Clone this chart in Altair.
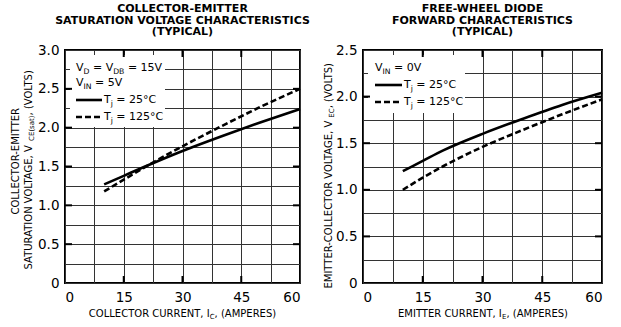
import altair as alt
import pandas as pd

# ---------------- data ----------------
current = [10, 15, 20, 30, 40, 50, 60]
vce_25 = [1.27, 1.38, 1.49, 1.70, 1.89, 2.07, 2.24]
vce_125 = [1.18, 1.33, 1.48, 1.76, 2.02, 2.27, 2.50]
vec_25 = [1.20, 1.31, 1.42, 1.60, 1.76, 1.91, 2.04]
vec_125 = [1.00, 1.13, 1.25, 1.46, 1.64, 1.81, 1.97]

x_major = [15, 30, 45]
x_grid = [0, 7.5, 15, 22.5, 30, 37.5, 45, 52.5, 60]
y_major_left = [0.5, 1.0, 1.5, 2.0, 2.5]
y_grid_left = [0, 0.25, 0.5, 0.75, 1.0, 1.25, 1.5, 1.75, 2.0, 2.25, 2.5, 2.75, 3.0]
y_major_right = [0.5, 1.0, 1.5, 2.0]
y_grid_right = [0, 0.25, 0.5, 0.75, 1.0, 1.25, 1.5, 1.75, 2.0, 2.25, 2.5]

title_left = ["COLLECTOR-EMITTER", "SATURATION VOLTAGE CHARACTERISTICS", "(TYPICAL)"]
title_right = ["FREE-WHEEL DIODE", "FORWARD CHARACTERISTICS", "(TYPICAL)"]

FONT = "DejaVu Sans"
GRID = "#333333"
XMAX = 60
TL = 7

# DejaVu Sans advance widths (units per 2048)
W = {' ': 651, 'A': 1401, 'B': 1405, 'C': 1430, 'D': 1577, 'E': 1294, 'F': 1178,
     'G': 1587, 'H': 1540, 'I': 604, 'L': 1141, 'M': 1767, 'N': 1532, 'O': 1612,
     'P': 1235, 'R': 1423, 'S': 1300, 'T': 1251, 'U': 1499, 'V': 1401, 'W': 2025,
     'a': 1255, 'j': 569, 's': 1067, 't': 803, '(': 799, ')': 799, ',': 651,
     '-': 739, '.': 651, '=': 1716, '°': 1024}
for d in "0123456789":
    W[d] = 1303


def tw(s, size):
    return sum(W.get(c, 1200) for c in s) / 2048.0 * size


def pieces(segs, x0, y0, size, angle=0, center=True, sub=0.7):
    rows = []
    widths = [tw(t, size * (sub if s else 1)) for t, s in segs]
    u = -sum(widths) / 2 if center else 0.0
    for (t, s), w in zip(segs, widths):
        sz = round(size * (sub if s else 1), 2)
        d = 0.32 * size if s else 0.0
        stripped = t.lstrip(" ")
        lead = tw(t[:len(t) - len(stripped)], sz)
        uu = u + lead
        if angle == 0:
            px, py = x0 + uu, y0 + d
        else:  # 270
            px, py = x0 + d, y0 - uu
        rows.append({"px": px, "py": py, "text": stripped, "size": sz, "angle": angle})
        u += w
    return rows


def text_layers(rows):
    df = pd.DataFrame(rows)
    layers = []
    for (sz, ang), g in df.groupby(["size", "angle"]):
        layers.append(
            alt.Chart(g[["px", "py", "text"]].reset_index(drop=True)).mark_text(
                font=FONT, align="left", baseline="middle", color="black",
                fontSize=float(sz), angle=float(ang)).encode(
                x=alt.X("px:Q", scale=None, axis=None),
                y=alt.Y("py:Q", scale=None, axis=None),
                text="text:N"))
    return layers


def panel(width, height, ymax, ymajor, ygrid, s25, s125, title, text_rows, box, sample):
    xs = alt.Scale(domain=[0, XMAX], nice=False, zero=False)
    ys = alt.Scale(domain=[0, ymax], nice=False, zero=False)
    xaxis = alt.Axis(values=x_grid, grid=True, gridColor=GRID, gridWidth=1, gridOpacity=1,
                     ticks=False, domain=False, title=None, labelOverlap=False,
                     labelFont=FONT, labelFontSize=13.5, labelColor="black", labelPadding=7,
                     labelExpr="datum.value % 15 == 0 ? format(datum.value, 'd') : ''")
    yaxis = alt.Axis(values=ygrid, grid=True, gridColor=GRID, gridWidth=1, gridOpacity=1,
                     ticks=False, domain=False, title=None, labelOverlap=False,
                     labelFont=FONT, labelFontSize=13.5, labelColor="black", labelPadding=6,
                     labelExpr="datum.value == 0 ? '0' : ((datum.value * 2) % 1 == 0 ? "
                               "format(datum.value, '.1f') : '')")
    X = alt.X("x:Q", scale=xs, axis=xaxis)
    Y = alt.Y("y:Q", scale=ys, axis=yaxis)

    px2x = XMAX / width
    px2y = ymax / height

    bx = pd.DataFrame([{"x": box[0] * px2x, "x2": box[1] * px2x,
                        "y": ymax - box[2] * px2y, "y2": ymax - box[3] * px2y}])
    boxl = alt.Chart(bx).mark_rect(fill="white").encode(x=X, x2="x2:Q", y=Y, y2="y2:Q")

    xt = pd.DataFrame({"x": x_major})
    yt = pd.DataFrame({"y": ymajor})
    tb = alt.Chart(xt).mark_rule(color="black", strokeWidth=2).encode(
        x=X, y=alt.value(height - TL), y2=alt.value(height))
    tt = alt.Chart(xt).mark_rule(color="black", strokeWidth=2).encode(
        x=X, y=alt.value(0), y2=alt.value(TL))
    tl = alt.Chart(yt).mark_rule(color="black", strokeWidth=2).encode(
        y=Y, x=alt.value(0), x2=alt.value(TL))
    tr = alt.Chart(yt).mark_rule(color="black", strokeWidth=2).encode(
        y=Y, x=alt.value(width - TL), x2=alt.value(width))

    d25 = pd.DataFrame({"x": current, "y": s25})
    d125 = pd.DataFrame({"x": current, "y": s125})
    l25 = alt.Chart(d25).mark_line(color="black", strokeWidth=2.6,
                                   interpolate="monotone").encode(x=X, y=Y)
    l125 = alt.Chart(d125).mark_line(color="black", strokeWidth=2.6, strokeDash=[6, 3],
                                     interpolate="monotone").encode(x=X, y=Y)

    s1 = alt.Chart(pd.DataFrame({"a": [0]})).mark_rule(
        color="black", strokeWidth=2.6).encode(
        x=alt.value(sample[0]), x2=alt.value(sample[1]), y=alt.value(sample[2]))
    s2 = alt.Chart(pd.DataFrame({"a": [0]})).mark_rule(
        color="black", strokeWidth=2.6, strokeDash=[6, 3]).encode(
        x=alt.value(sample[0]), x2=alt.value(sample[1]), y=alt.value(sample[3]))

    layers = [l25, boxl, tb, tt, tl, tr, l125, s1, s2] + text_layers(text_rows)
    return alt.layer(*layers).properties(
        width=width, height=height,
        title=alt.TitleParams(text=title, font=FONT, fontSize=11, fontWeight="bold",
                              lineHeight=11.5, anchor="middle", offset=6, color="black"))


# ---------- left panel texts ----------
LS = 11
left_rows = []
left_rows += pieces([("COLLECTOR-EMITTER", 0)], -49, 111, 10, angle=270)
left_rows += pieces([("SATURATION VOLTAGE, V", 0), ("CE(sat)", 1), (", (VOLTS)", 0)],
                    -36, 119, 10, angle=270)
left_rows += pieces([("COLLECTOR CURRENT, I", 0), ("C", 1), (", (AMPERES)", 0)],
                    117.5, 264, 10)
left_rows += pieces([("V", 0), ("D", 1), (" = V", 0), ("DB", 1), (" = 15V", 0)],
                    11, 18, LS, center=False)
left_rows += pieces([("V", 0), ("IN", 1), (" = 5V", 0)], 11, 33, LS, center=False)
left_rows += pieces([("T", 0), ("j", 1), (" = 25°C", 0)], 39, 50, LS, center=False)
left_rows += pieces([("T", 0), ("j", 1), (" = 125°C", 0)], 39, 67, LS, center=False)

# ---------- right panel texts ----------
right_rows = []
right_rows += pieces([("EMITTER-COLLECTOR VOLTAGE, V", 0), ("EC", 1), (", (VOLTS)", 0)],
                     -34, 125, 10, angle=270)
right_rows += pieces([("EMITTER CURRENT, I", 0), ("E", 1), (", (AMPERES)", 0)],
                     120, 264, 10)
right_rows += pieces([("V", 0), ("IN", 1), (" = 0V", 0)], 12, 18, LS, center=False)
right_rows += pieces([("T", 0), ("j", 1), (" = 25°C", 0)], 41, 35, LS, center=False)
right_rows += pieces([("T", 0), ("j", 1), (" = 125°C", 0)], 41, 52, LS, center=False)

left = panel(235, 233, 3.0, y_major_left, y_grid_left, vce_25, vce_125,
             title_left, left_rows, (5, 100, 5, 77), (11, 37, 50, 67))
right = panel(239, 233, 2.5, y_major_right, y_grid_right, vec_25, vec_125,
              title_right, right_rows, (5, 102, 5, 63), (12, 39, 35, 52))

chart = alt.hconcat(left, right, spacing=11).properties(
    padding={"left": 10, "top": 2, "right": 5, "bottom": 5},
    background="white"
).configure_view(stroke="black", strokeWidth=2)

chart.save("out.html", embed_options={"renderer": "svg", "actions": False})
